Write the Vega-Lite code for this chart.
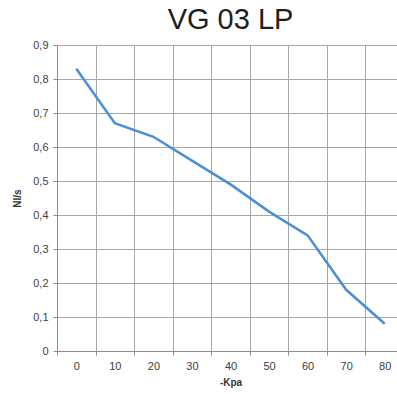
{
  "$schema": "https://vega.github.io/schema/vega-lite/v6.json",
  "autosize": {"type": "none"},
  "padding": {"left": 57, "top": 45, "right": 0, "bottom": 43},
  "width": 347,
  "height": 306,
  "background": "white",
  "title": {
    "text": "VG 03 LP",
    "font": "Liberation Sans",
    "fontSize": 29,
    "fontWeight": "normal",
    "color": "#1e1e1e",
    "anchor": "middle",
    "offset": 4,
    "frame": "group"
  },
  "config": {
    "view": {"stroke": null},
    "axis": {
      "labelFont": "Liberation Sans",
      "labelFontSize": 11,
      "labelColor": "#404040",
      "titleFont": "Liberation Sans",
      "titleFontSize": 10,
      "titleFontWeight": "bold",
      "titleColor": "#333333",
      "gridColor": "#a6a6a6",
      "gridOpacity": 1,
      "gridWidth": 1,
      "domainColor": "#8c8c8c",
      "tickColor": "#8c8c8c",
      "tickSize": 4
    }
  },
  "data": {
    "values": [
      {"kpa": "0", "nls": 0.83},
      {"kpa": "10", "nls": 0.67},
      {"kpa": "20", "nls": 0.63},
      {"kpa": "30", "nls": 0.56},
      {"kpa": "40", "nls": 0.49},
      {"kpa": "50", "nls": 0.41},
      {"kpa": "60", "nls": 0.34},
      {"kpa": "70", "nls": 0.18},
      {"kpa": "80", "nls": 0.08}
    ]
  },
  "mark": {"type": "line", "color": "#4a8fd6", "strokeWidth": 2.5},
  "encoding": {
    "x": {
      "field": "kpa",
      "type": "ordinal",
      "sort": null,
      "scale": {"type": "band", "paddingInner": 0, "paddingOuter": 0},
      "axis": {
        "title": "-Kpa",
        "labelAngle": 0,
        "tickBand": "extent",
        "grid": true,
        "labelPadding": 5,
        "titlePadding": 6
      }
    },
    "y": {
      "field": "nls",
      "type": "quantitative",
      "scale": {"domain": [0, 0.9], "nice": false},
      "axis": {
        "title": "Nl/s",
        "values": [0, 0.1, 0.2, 0.3, 0.4, 0.5, 0.6, 0.7, 0.8, 0.9],
        "labelExpr": "datum.value == 0 ? '0' : replace(format(datum.value, '.1f'), '.', ',')",
        "grid": true,
        "labelPadding": 5,
        "titlePadding": 10
      }
    }
  }
}
